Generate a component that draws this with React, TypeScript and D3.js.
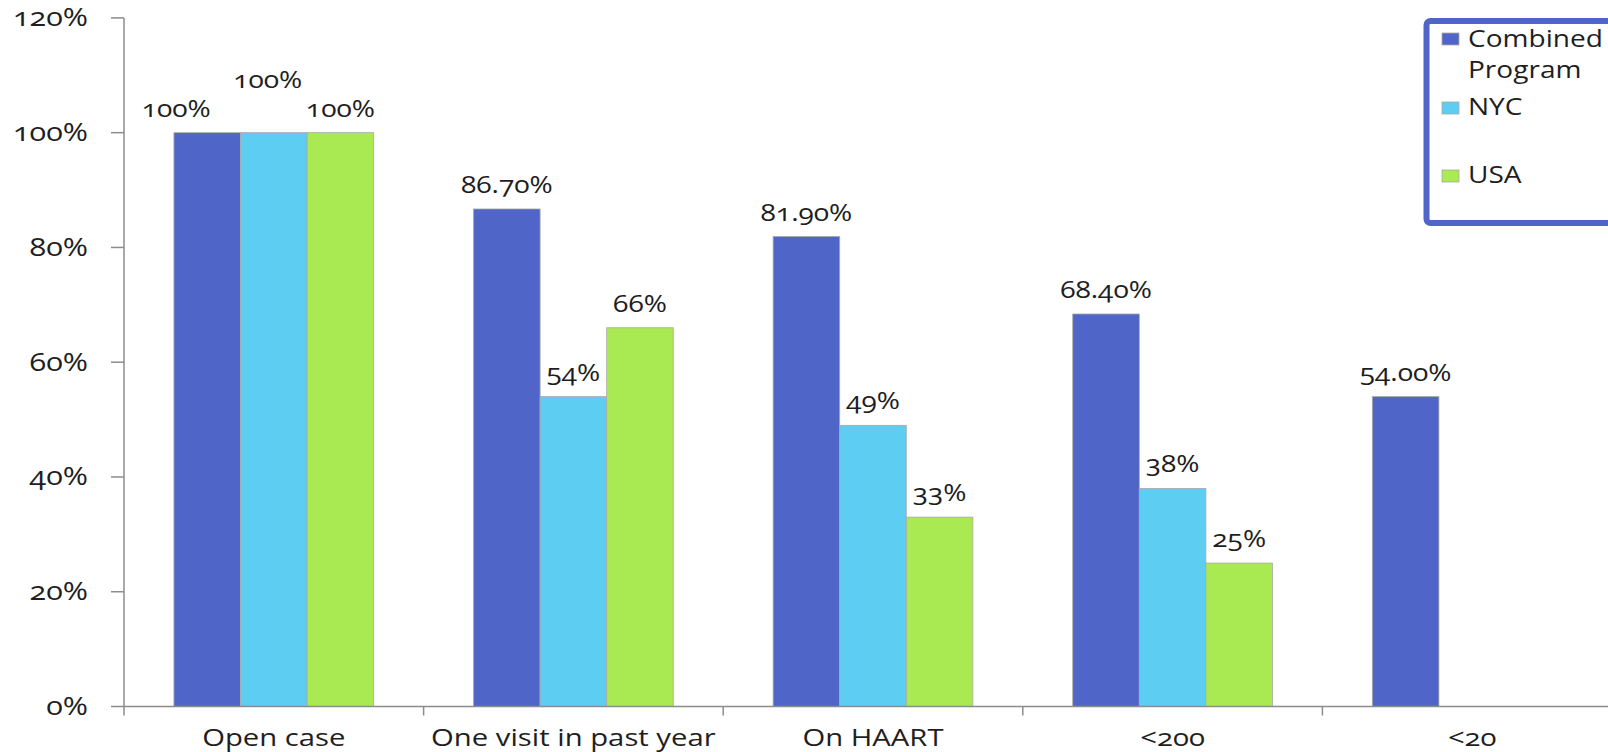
import React from "react";
import * as d3 from "d3";

// Chart data
const categories = ["Open case", "One visit in past year", "On HAART", "<200", "<20"];
const seriesNames = ["Combined Program", "NYC", "USA"];
const combinedValues = [100, 86.7, 81.9, 68.4, 54.0];
const nycValues: (number | null)[] = [100, 54, 49, 38, null];
const usaValues: (number | null)[] = [100, 66, 33, 25, null];
const yTicks = [0, 20, 40, 60, 80, 100, 120];

const seriesColors = ["#4F66C8", "#5ECDF2", "#A9EA52"];

const W = 1608;
const H = 752;
const FONT = "'Open Sans', 'Lato', sans-serif";
const SX = 1.22; // horizontal text stretch

const fmtCombined = (v: number) => (v === 100 ? "100%" : `${v.toFixed(2)}%`);
const fmtInt = (v: number) => `${Math.round(v)}%`;

const x0 = d3.scaleBand<string>().domain(categories).range([124, 124 + 5 * 299.6]).paddingInner(0).paddingOuter(0);
const x1 = d3.scaleBand<string>().domain(seriesNames).range([0, x0.bandwidth()]).paddingInner(0).paddingOuter(0.75);
const y = d3.scaleLinear().domain([0, 120]).range([706.5, 17.9]);

// Manual nudges for the crowded "Open case" labels
const labelNudge: Record<string, { dx: number; dy: number }> = {
  "Open case|Combined Program": { dx: -31, dy: 0 },
  "Open case|NYC": { dx: -6, dy: -29 },
};

function SText({ x, y: ty, anchor = "middle", size = 23, children }: any) {
  return (
    <text
      transform={`translate(${x},${ty}) scale(${SX},1)`}
      textAnchor={anchor}
      fontFamily={FONT}
      fontSize={size}
      fill="#1e1e1e"
      style={{ fontVariantNumeric: "oldstyle-nums" }}
    >
      {children}
    </text>
  );
}

export default function App() {
  const seriesValues = [combinedValues, nycValues, usaValues];
  const formats = [fmtCombined, fmtInt, fmtInt];
  const y0 = y(0);
  const axisColor = "#8C8C8C";

  const bars: React.ReactNode[] = [];
  const labels: React.ReactNode[] = [];
  categories.forEach((cat, ci) => {
    seriesNames.forEach((s, si) => {
      const v = seriesValues[si][ci];
      if (v == null) return;
      const bx = (x0(cat) as number) + (x1(s) as number);
      const bw = x1.bandwidth();
      bars.push(
        <rect
          key={`b-${ci}-${si}`}
          x={bx}
          y={y(v)}
          width={bw}
          height={y0 - y(v)}
          fill={seriesColors[si]}
          stroke="#A8A8A8"
          strokeWidth={0.8}
        />
      );
      const n = labelNudge[`${cat}|${s}`] || { dx: 0, dy: 0 };
      labels.push(
        <SText key={`l-${ci}-${si}`} x={bx + bw / 2 + n.dx} y={y(v) - 16 + n.dy}>
          {formats[si](v)}
        </SText>
      );
    });
  });

  const boundaries = categories.map((c) => x0(c) as number);

  const legendRows = [
    { lines: ["Combined", "Program"], base: 47, sw: 33 },
    { lines: ["NYC"], base: 115, sw: 102 },
    { lines: ["USA"], base: 183, sw: 170 },
  ];

  return (
    <div style={{ position: "absolute", left: 0, top: 0, width: W, height: H, background: "#fff" }}>
      <svg width={W} height={H} viewBox={`0 0 ${W} ${H}`} style={{ display: "block" }}>
        <rect x={0} y={0} width={W} height={H} fill="#fff" />
        {bars}
        {/* y axis */}
        <line x1={124} x2={124} y1={y(120)} y2={y0} stroke={axisColor} strokeWidth={1.5} />
        {yTicks.map((t) => (
          <g key={`yt-${t}`}>
            <line x1={111} x2={124} y1={y(t)} y2={y(t)} stroke={axisColor} strokeWidth={1.5} />
            <SText x={88} y={y(t) + 8.5} anchor="end" size={25}>
              {`${t}%`}
            </SText>
          </g>
        ))}
        {/* x axis */}
        <line x1={124} x2={W} y1={y0} y2={y0} stroke={axisColor} strokeWidth={1.5} />
        {boundaries.map((bx, i) => (
          <line key={`xt-${i}`} x1={bx} x2={bx} y1={y0} y2={y0 + 9} stroke={axisColor} strokeWidth={1.5} />
        ))}
        {categories.map((c) => (
          <SText key={`xl-${c}`} x={(x0(c) as number) + x0.bandwidth() / 2} y={746} size={24}>
            {c}
          </SText>
        ))}
        {labels}
        {/* legend */}
        <rect x={1426.5} y={21} width={220} height={202} rx={4} fill="#fff" stroke="#4F66C8" strokeWidth={6} />
        {legendRows.map((r, i) => (
          <g key={`lg-${i}`}>
            <rect x={1442} y={r.sw} width={17} height={12} fill={seriesColors[i]} stroke="#A8A8A8" strokeWidth={0.8} />
            {r.lines.map((ln, li) => (
              <SText key={ln} x={1468} y={r.base + li * 31} anchor="start" size={23}>
                {ln}
              </SText>
            ))}
          </g>
        ))}
      </svg>
    </div>
  );
}
